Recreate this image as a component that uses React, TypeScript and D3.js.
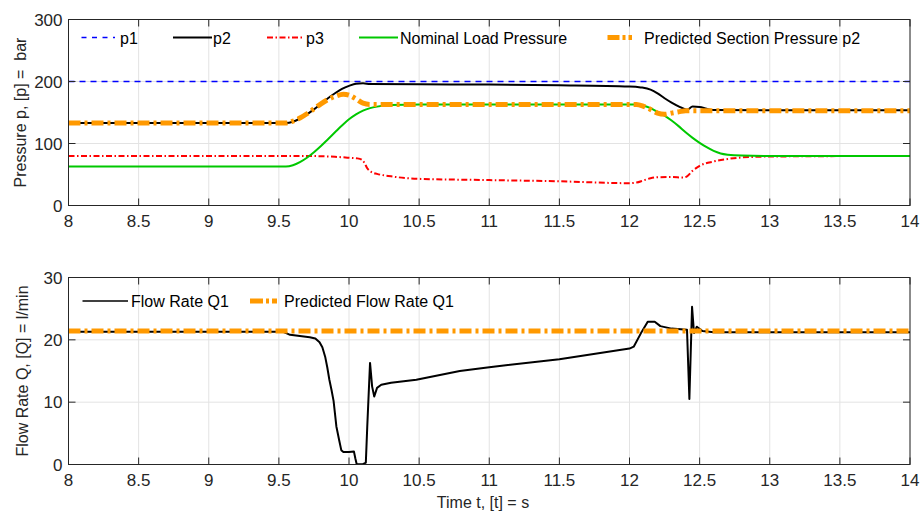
import React from 'react';
import * as d3 from 'd3';

// ---------- data ----------
const xTicks = [8, 8.5, 9, 9.5, 10, 10.5, 11, 11.5, 12, 12.5, 13, 13.5, 14];
const xTickLabels = ['8', '8.5', '9', '9.5', '10', '10.5', '11', '11.5', '12', '12.5', '13', '13.5', '14'];
const pTicks = [0, 100, 200, 300];
const qTicks = [0, 10, 20, 30];

const p1T = [8, 14];
const p1V = [200, 200];

const p2T = [8, 9.55, 9.6, 9.65, 9.7, 9.75, 9.8, 9.85, 9.9, 9.95, 10.0, 10.05, 10.1, 10.15, 10.5, 11, 11.5, 12.0, 12.08, 12.15, 12.2, 12.25, 12.3, 12.35, 12.41, 12.45, 12.5, 12.55, 12.6, 13, 14];
const p2V = [133, 133, 135, 140, 147, 155, 164, 173, 181, 188, 193, 196.5, 197, 196, 195.5, 195, 194, 192, 190.5, 187, 181, 173, 166, 160, 154.5, 159.5, 159, 156, 154, 153.5, 153.5];

const p3T = [8, 9.7, 9.8, 9.9, 10.0, 10.06, 10.09, 10.11, 10.13, 10.16, 10.2, 10.3, 10.5, 11, 11.5, 12.0, 12.05, 12.1, 12.15, 12.2, 12.3, 12.38, 12.41, 12.45, 12.5, 12.6, 12.7, 12.8, 13, 14];
const p3V = [80, 80, 79.5, 78.5, 77, 76, 74, 69, 60, 54, 51, 47, 43, 41, 39, 36, 37, 40.5, 44, 45.5, 46, 45, 47, 56, 64, 71, 75, 77.5, 79, 80];

const nomT = [8, 9.55, 9.6, 9.65, 9.7, 9.75, 9.8, 9.85, 9.9, 9.95, 10.0, 10.05, 10.1, 10.15, 10.2, 10.3, 10.5, 12.05, 12.1, 12.15, 12.2, 12.25, 12.3, 12.35, 12.4, 12.45, 12.5, 12.55, 12.6, 12.65, 12.7, 12.8, 13, 14];
const nomV = [63, 63, 65, 70, 77, 86, 96, 107, 118, 129, 139, 147, 153, 157, 159.5, 162, 163, 163, 161, 157, 151, 145, 137, 128, 118, 109, 101, 94, 88, 84, 82, 80.5, 80, 80];

const predPT = [8, 9.55, 9.6, 9.65, 9.7, 9.75, 9.8, 9.85, 9.9, 9.96, 10.0, 10.05, 10.1, 10.15, 12.05, 12.1, 12.15, 12.2, 12.25, 12.3, 12.35, 12.4, 14];
const predPV = [133, 133, 136, 141, 148, 156, 164, 171, 176, 179.5, 178, 172, 165, 163, 163, 160, 155, 149, 147, 149, 151, 153, 153];

const qT = [8, 9.53, 9.56, 9.58, 9.65, 9.72, 9.76, 9.79, 9.81, 9.83, 9.845, 9.86, 9.875, 9.89, 9.91, 9.93, 9.945, 9.96, 10.0, 10.035, 10.045, 10.055, 10.1, 10.12, 10.13, 10.15, 10.165, 10.18, 10.2, 10.23, 10.3, 10.48, 10.79, 11, 11.5, 12.0, 12.03, 12.08, 12.13, 12.18, 12.22, 12.3, 12.41, 12.427, 12.446, 12.46, 12.48, 12.52, 12.6, 14];
const qV = [21.3, 21.3, 21.0, 20.8, 20.6, 20.4, 20.2, 19.6, 18.8, 17.3, 15.6, 13.6, 12.0, 10.2, 6.1, 3.9, 2.3, 2.0, 2.0, 2.1, 1.0, 0.05, 0.05, 0.3, 6, 16.3, 12.5, 10.9, 12.3, 12.8, 13.1, 13.6, 15.0, 15.6, 16.9, 18.6, 18.9, 21, 22.9, 22.9, 22.2, 21.8, 21.6, 10.5, 25.3, 21.1, 22.1, 21.4, 21.2, 21.2];

const predQT = [8, 14];
const predQV = [21.4, 21.4];

// ---------- layout ----------
const W = 920;
const H = 513;
const X0 = 68.5;
const X1 = 910;
const font = '"Liberation Sans", Arial, Helvetica, sans-serif';

const x = d3.scaleLinear().domain([8, 14]).range([X0, X1]);
const yP = d3.scaleLinear().domain([0, 300]).range([205.5, 19.5]);
const yQ = d3.scaleLinear().domain([0, 30]).range([464.5, 277.5]);

type Pt = [number, number];
const zip = (t: number[], v: number[]): Pt[] => t.map((tt, i) => [tt, v[i]]);

const smoothP = d3.line<Pt>().x(d => x(d[0])).y(d => yP(d[1])).curve(d3.curveMonotoneX);
const linQ = d3.line<Pt>().x(d => x(d[0])).y(d => yQ(d[1]));

const BLUE = '#0000ff';
const RED = '#ff0000';
const GREEN = '#00c800';
const ORANGE = '#ff9900';
const AXIS = '#262626';
const GRID = '#e3e3e3';

function Axes(props: { y: d3.ScaleLinear<number, number>; yTicks: number[]; id: string; children: React.ReactNode; label: string; labelX: number }) {
  const { y, yTicks, id, children, label, labelX } = props;
  const [yb, yt] = y.range();
  const tl = 7;
  return (
    <g>
      <defs>
        <clipPath id={id}>
          <rect x={X0} y={yt - 3} width={X1 - X0} height={yb - yt + 3} />
        </clipPath>
      </defs>
      <rect x={X0} y={yt} width={X1 - X0} height={yb - yt} fill="#fff" />
      {xTicks.map(t => (
        <line key={'gx' + t} x1={x(t)} x2={x(t)} y1={yt} y2={yb} stroke={GRID} strokeWidth={1} />
      ))}
      {yTicks.map(t => (
        <line key={'gy' + t} x1={X0} x2={X1} y1={y(t)} y2={y(t)} stroke={GRID} strokeWidth={1} />
      ))}
      <g clipPath={`url(#${id})`}>{children}</g>
      <rect x={X0} y={yt} width={X1 - X0} height={yb - yt} fill="none" stroke={AXIS} strokeWidth={1} />
      {xTicks.map(t => (
        <g key={'tx' + t}>
          <line x1={x(t)} x2={x(t)} y1={yb} y2={yb - tl} stroke={AXIS} />
          <line x1={x(t)} x2={x(t)} y1={yt} y2={yt + tl} stroke={AXIS} />
        </g>
      ))}
      {yTicks.map(t => (
        <g key={'ty' + t}>
          <line x1={X0} x2={X0 + tl} y1={y(t)} y2={y(t)} stroke={AXIS} />
          <line x1={X1} x2={X1 - tl} y1={y(t)} y2={y(t)} stroke={AXIS} />
        </g>
      ))}
      {xTicks.map((t, i) => (
        <text key={'lx' + t} x={x(t)} y={yb + 21} textAnchor="middle" fontSize={17} fill="#262626" fontFamily={font}>
          {xTickLabels[i]}
        </text>
      ))}
      {yTicks.map(t => (
        <text key={'ly' + t} x={X0 - 6} y={y(t) + 6} textAnchor="end" fontSize={17} fill="#262626" fontFamily={font}>
          {t}
        </text>
      ))}
      <text
        transform={`translate(${labelX},${(yb + yt) / 2}) rotate(-90)`}
        textAnchor="middle"
        fontSize={16}
        fill="#262626"
        fontFamily={font}
        style={{ whiteSpace: 'pre' }}
      >
        {label}
      </text>
    </g>
  );
}

export default function App() {
  const orangeDash = '12,4,3,4';
  const redDash = '6,2.5,1.5,2.5';
  const blueDash = '6,5';
  const legY1 = 37.5;
  const legY2 = 301;
  return (
    <svg width={W} height={H} style={{ position: 'absolute', left: 0, top: 0, background: '#fff' }}>
      <rect x={0} y={0} width={W} height={H} fill="#fff" />
      <Axes y={yP} yTicks={pTicks} id="clipTop" label="Pressure p, [p] =  bar" labelX={26}>
        <path d={smoothP(zip(p1T, p1V)) || ''} fill="none" stroke={BLUE} strokeWidth={1.5} strokeDasharray={blueDash} />
        <path d={smoothP(zip(p2T, p2V)) || ''} fill="none" stroke="#000" strokeWidth={2} />
        <path d={smoothP(zip(p3T, p3V)) || ''} fill="none" stroke={RED} strokeWidth={2} strokeDasharray={redDash} />
        <path d={smoothP(zip(nomT, nomV)) || ''} fill="none" stroke={GREEN} strokeWidth={2} />
        <path d={smoothP(zip(predPT, predPV)) || ''} fill="none" stroke={ORANGE} strokeWidth={5} strokeDasharray={orangeDash} />
      </Axes>
      {/* top legend */}
      <g fontFamily={font} fontSize={16} fill="#000">
        <line x1={81.5} x2={115} y1={legY1} y2={legY1} stroke={BLUE} strokeWidth={1.5} strokeDasharray="5,5.5" />
        <text x={120} y={legY1 + 6}>p1</text>
        <line x1={173} x2={212} y1={legY1} y2={legY1} stroke="#000" strokeWidth={2} />
        <text x={213} y={legY1 + 6}>p2</text>
        <line x1={267} x2={302} y1={legY1} y2={legY1} stroke={RED} strokeWidth={2} strokeDasharray={redDash} />
        <text x={306} y={legY1 + 6}>p3</text>
        <line x1={359} x2={398} y1={legY1} y2={legY1} stroke={GREEN} strokeWidth={2} />
        <text x={400} y={legY1 + 6}>Nominal Load Pressure</text>
        <line x1={607.5} x2={632} y1={legY1} y2={legY1} stroke={ORANGE} strokeWidth={5} strokeDasharray="12,3,3,3" />
        <text x={644} y={legY1 + 6}>Predicted Section Pressure p2</text>
      </g>

      <Axes y={yQ} yTicks={qTicks} id="clipBot" label="Flow Rate Q, [Q] = l/min" labelX={28}>
        <path d={linQ(zip(qT, qV)) || ''} fill="none" stroke="#000" strokeWidth={2} strokeLinejoin="round" />
        <path d={linQ(zip(predQT, predQV)) || ''} fill="none" stroke={ORANGE} strokeWidth={5} strokeDasharray={orangeDash} />
      </Axes>
      {/* bottom legend */}
      <g fontFamily={font} fontSize={16} fill="#000">
        <line x1={82.5} x2={128} y1={legY2} y2={legY2} stroke="#000" strokeWidth={1.5} />
        <text x={131} y={legY2 + 6}>Flow Rate Q1</text>
        <line x1={250} x2={277} y1={legY2} y2={legY2} stroke={ORANGE} strokeWidth={5} strokeDasharray="13,3,3,3" />
        <text x={284} y={legY2 + 6}>Predicted Flow Rate Q1</text>
      </g>

      <text x={483} y={508} textAnchor="middle" fontSize={16} fill="#262626" fontFamily={font}>
        Time t, [t] = s
      </text>
    </svg>
  );
}
